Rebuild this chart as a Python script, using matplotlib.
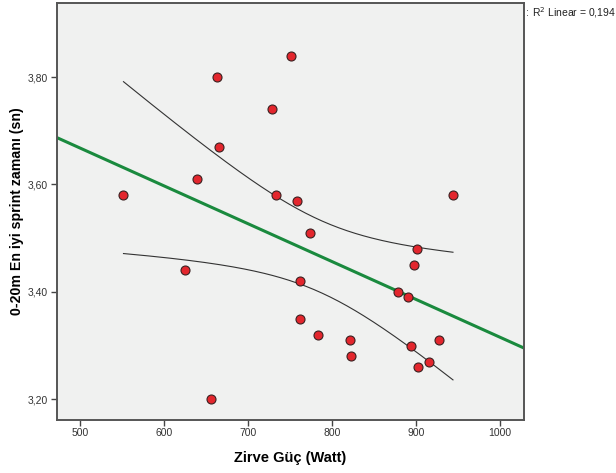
import numpy as np
import matplotlib
matplotlib.use("Agg")
import matplotlib.pyplot as plt
from matplotlib.ticker import FuncFormatter

plt.rcParams['font.family'] = ['Liberation Sans', 'DejaVu Sans']

peak_power = [751, 663, 729, 666, 640, 552, 733, 758, 774, 944,
              625, 762, 762, 784, 656, 901, 898, 879, 891, 821,
              927, 894, 823, 915, 902]
sprint_time = [3.84, 3.80, 3.74, 3.67, 3.61, 3.58, 3.58, 3.57, 3.51, 3.58,
               3.44, 3.42, 3.35, 3.32, 3.20, 3.48, 3.45, 3.40, 3.39, 3.31,
               3.31, 3.30, 3.28, 3.27, 3.26]
x_ticks = [500, 600, 700, 800, 900, 1000]
y_ticks = [3.20, 3.40, 3.60, 3.80]
r2_text = "R$^2$ Linear = 0,194"

x = np.array(peak_power, float)
y = np.array(sprint_time, float)
n = len(x)
b, a = np.polyfit(x, y, 1)
resid = y - (a + b * x)
s = np.sqrt(np.sum(resid**2) / (n - 2))
sxx = np.sum((x - x.mean())**2)
tval = 2.0687  # t(0.975, 23)

fig = plt.figure(figsize=(6.16, 4.73), dpi=100)
ax = fig.add_axes([56.5/616, 1 - 420/473, (524-56.5)/616, (420-3)/473])
ax.set_facecolor('#f0f1f0')
xlim = (472.3, 1028.5)
ax.set_xlim(*xlim)
ax.set_ylim(3.1614, 3.938)

# fit line across axes
xl = np.linspace(xlim[0], xlim[1], 100)
ax.plot(xl, a + b * xl, color='#1a8a3e', lw=2.2, zorder=2)

# confidence band for the mean
xc = np.linspace(x.min(), x.max(), 200)
yc = a + b * xc
se = s * np.sqrt(1.0 / n + (xc - x.mean())**2 / sxx)
ax.plot(xc, yc + tval * se, color='#333333', lw=0.8, zorder=2)
ax.plot(xc, yc - tval * se, color='#333333', lw=0.8, zorder=2)

ax.scatter(x, y, s=42, facecolor='#e3262d', edgecolor='#3a2020', linewidth=0.8, zorder=3)

ax.set_xticks(x_ticks)
ax.set_yticks(y_ticks)
ax.yaxis.set_major_formatter(FuncFormatter(lambda v, p: f"{v:.2f}".replace('.', ',')))
ax.tick_params(axis='both', direction='out', length=4, width=1, color='#444444',
               labelsize=7.5, labelcolor='#333333', pad=2)
for sp in ax.spines.values():
    sp.set_color('#555555')
    sp.set_linewidth(1.4)

ax.set_xlabel('Zirve Güç (Watt)', fontsize=10.5, fontweight='bold', labelpad=9)
ax.set_ylabel('0-20m En iyi sprint zamanı (sn)', fontsize=10.2, fontweight='bold', labelpad=3)

fig.text(526/616, 1 - 13/473, ':', fontsize=7.5, va='center', ha='left', color='#333333')
fig.text(532/616, 1 - 13/473, r2_text, fontsize=7.5, va='center', ha='left', color='#222222')

fig.savefig('out.png', dpi=100)
